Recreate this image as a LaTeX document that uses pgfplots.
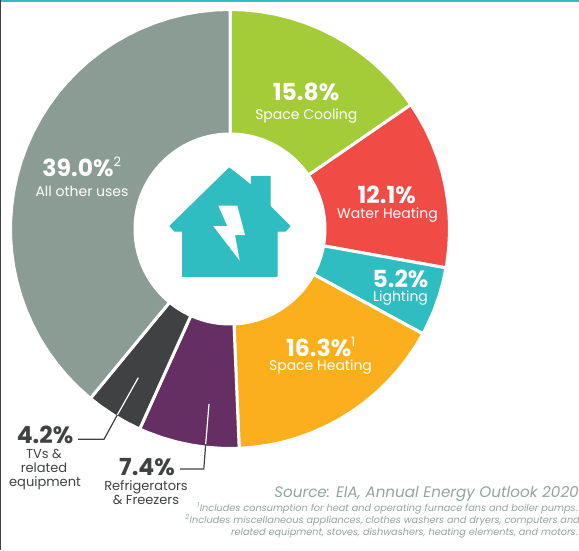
\documentclass[border=0pt]{standalone}
\usepackage{pgfplots}
\pgfplotsset{compat=1.18}
\usepackage{fontspec}
\setmainfont{Poppins}
\definecolor{cgreen}{HTML}{A4CC39}
\definecolor{cred}{HTML}{F04B45}
\definecolor{cteal}{HTML}{2FBDC2}
\definecolor{corange}{HTML}{FBAF1C}
\definecolor{cpurple}{HTML}{662F63}
\definecolor{cdark}{HTML}{404142}
\definecolor{cgray}{HTML}{8A9C94}
\definecolor{cnote}{HTML}{93A59D}
\tikzset{
  bn/.style={font=\fontsize{23.5}{24}\selectfont\bfseries,anchor=base,inner sep=0pt},
  ln/.style={font=\fontsize{14}{14}\selectfont,anchor=base,inner sep=0pt},
  dl/.style={font=\fontsize{13}{14}\selectfont,anchor=base,inner sep=0pt},
  sn/.style={font=\fontsize{15.2}{16}\selectfont\itshape,text=cnote,anchor=base east,inner sep=0pt},
  fn/.style={font=\fontsize{9.7}{10}\selectfont\itshape,text=cnote,anchor=base east,inner sep=0pt}
}
\begin{document}
\begin{tikzpicture}
\begin{axis}[at={(0,0)},anchor=south west,scale only axis,width=579pt,height=550pt,
  xmin=-230,xmax=349,ymin=-321,ymax=229,hide axis,clip=false,
  every axis plot/.append style={draw=white,line width=3pt,line join=miter,data cs=polar}]
% Space Cooling 15.8 %
\addplot[fill=cgreen] coordinates {(0,0)(90,219.5)(86,219.5)(82,219.5)(78,219.5)(74,219.5)(70,219.5)(66,219.5)(62,219.5)(58,219.5)(54,219.5)(50,219.5)(46,219.5)(42,219.5)(38,219.5)(34.5,219.5)(0,0)};
% Water Heating 12.1 %
\addplot[fill=cred] coordinates {(0,0)(34.5,219.5)(31,219.5)(27,219.5)(23,219.5)(19,219.5)(15,219.5)(11,219.5)(7,219.5)(3,219.5)(-1,219.5)(-5,219.5)(-9,219.5)(-10.2,219.5)(0,0)};
% Lighting 5.2 %
\addplot[fill=cteal] coordinates {(0,0)(-10.2,219.5)(-14,219.5)(-18,219.5)(-22,219.5)(-26,219.5)(-28.5,219.5)(0,0)};
% Space Heating 16.3 %
\addplot[fill=corange] coordinates {(0,0)(-28.5,219.5)(-32,219.5)(-36,219.5)(-40,219.5)(-44,219.5)(-48,219.5)(-52,219.5)(-56,219.5)(-60,219.5)(-64,219.5)(-68,219.5)(-72,219.5)(-76,219.5)(-80,219.5)(-84,219.5)(-87.6,219.5)(0,0)};
% Refrigerators and Freezers 7.4 %
\addplot[fill=cpurple] coordinates {(0,0)(-87.6,219.5)(-92,219.5)(-96,219.5)(-100,219.5)(-104,219.5)(-108,219.5)(-112,219.5)(-114.3,219.5)(0,0)};
% TVs 4.2 %
\addplot[fill=cdark] coordinates {(0,0)(-114.3,219.5)(-118,219.5)(-122,219.5)(-126,219.5)(-129.5,219.5)(0,0)};
% All other uses 39.0 %
\addplot[fill=cgray] coordinates {(0,0)(-129.5,219.5)(-134,219.5)(-138,219.5)(-142,219.5)(-146,219.5)(-150,219.5)(-154,219.5)(-158,219.5)(-162,219.5)(-166,219.5)(-170,219.5)(-174,219.5)(-178,219.5)(-182,219.5)(-186,219.5)(-190,219.5)(-194,219.5)(-198,219.5)(-202,219.5)(-206,219.5)(-210,219.5)(-214,219.5)(-218,219.5)(-222,219.5)(-226,219.5)(-230,219.5)(-234,219.5)(-238,219.5)(-242,219.5)(-246,219.5)(-250,219.5)(-254,219.5)(-258,219.5)(-262,219.5)(-266,219.5)(-270,219.5)(0,0)};
\fill[white] (axis cs:0,0) circle[radius=96.5pt];
\end{axis}
\begin{axis}[at={(0,0)},anchor=south west,scale only axis,width=579pt,height=550pt,
  xmin=0,xmax=579,ymin=0,ymax=550,y dir=reverse,hide axis,clip=false]
% frame lines
\addplot[draw=cteal,line width=2pt] coordinates {(0,0.6)(579,0.6)};
\addplot[draw=cdark,line width=1.6pt] coordinates {(0.4,0)(0.4,550)};
% house
\addplot[fill=cteal,draw=cteal,line width=1pt,line join=round] coordinates {(229.3,168)(170,226)(174.5,231)(182.6,231)(182.6,276.4)(277,276.4)(277,231)(285.5,231)(290,226)(270,206)(270,176.4)(251.4,176.4)(251.4,185.5)(229.3,168)};
\addplot[fill=white,draw=none] coordinates {(218.3,205.7)(237.3,205.7)(245,235)(235,235)(239.7,260.7)(213.3,226)(227.3,226)(218.3,205.7)};
% leaders
\addplot[draw=cdark,line width=1.2pt] coordinates {(78,439.3)(104,439.3)(117.3,415)};
\addplot[draw=white,line width=1.2pt] coordinates {(117.3,415)(138.3,377.7)};
\addplot[draw=cdark,line width=1.2pt] coordinates {(180,469)(203.8,469)(205.7,444)};
\addplot[draw=white,line width=1.2pt] coordinates {(205.7,444)(209,404)};
% labels on the ring
\node[bn,text=white] at (axis cs:306,100.7) {15.8\%};
\node[ln,text=white] at (axis cs:306.3,119) {Space Cooling};
\node[bn,text=white] at (axis cs:386.7,203.3) {12.1\%};
\node[ln,text=white] at (axis cs:387.5,218) {Water Heating};
\node[bn,text=white] at (axis cs:400.5,287) {5.2\%};
\node[ln,text=white] at (axis cs:400.5,301) {Lighting};
\node[bn,text=white] at (axis cs:321,356) {16.3\%\textsuperscript{\fontsize{13}{13}\selectfont\mdseries 1}};
\node[ln,text=white] at (axis cs:320.5,370) {Space Heating};
\node[bn,text=white] at (axis cs:82,176) {39.0\%\textsuperscript{\fontsize{13}{13}\selectfont\mdseries 2}};
\node[ln,text=white] at (axis cs:82,196) {All other uses};
% labels outside
\node[bn,text=cdark] at (axis cs:45,443.3) {4.2\%};
\node[dl,text=cdark] at (axis cs:44,458) {TVs \&};
\node[dl,text=cdark] at (axis cs:44,472.5) {related};
\node[dl,text=cdark] at (axis cs:45,486.5) {equipment};
\node[bn,text=cdark] at (axis cs:147,475) {7.4\%};
\node[dl,text=cdark] at (axis cs:146,490.7) {Refrigerators};
\node[dl,text=cdark] at (axis cs:146,504.7) {\& Freezers};
% source
\node[sn] at (axis cs:579,497.7) {Source: EIA, Annual Energy Outlook 2020};
\node[fn] at (axis cs:578,511) {\textsuperscript{1}Includes consumption for heat and operating furnace fans and boiler pumps.};
\node[fn] at (axis cs:580,523) {\textsuperscript{2}Includes miscellaneous appliances, clothes washers and dryers, computers and};
\node[fn] at (axis cs:578,535.7) {related equipment, stoves, dishwashers, heating elements, and motors.};
\end{axis}
\pgfresetboundingbox
\useasboundingbox (0,0) rectangle (579pt,550pt);
\end{tikzpicture}
\end{document}
